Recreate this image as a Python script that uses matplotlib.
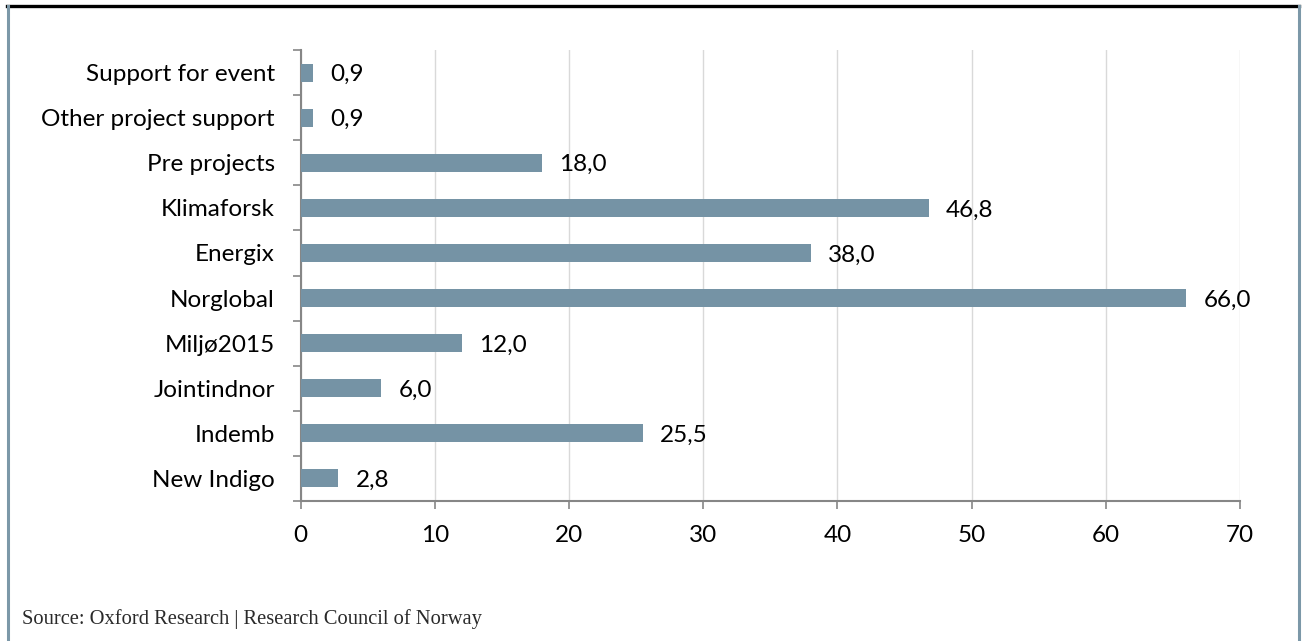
import numpy as np
import matplotlib
matplotlib.use("Agg")
import matplotlib.pyplot as plt
from matplotlib.lines import Line2D

# data, top to bottom as shown
categories = ["Support for event", "Other project support", "Pre projects", "Klimaforsk",
              "Energix", "Norglobal", "Miljø2015", "Jointindnor", "Indemb", "New Indigo"]
values = [0.9, 0.9, 18.0, 46.8, 38.0, 66.0, 12.0, 6.0, 25.5, 2.8]
x_ticks = [0, 10, 20, 30, 40, 50, 60, 70]
source = "Source: Oxford Research | Research Council of Norway"

bar_color = "#7593A5"
frame_color = "#7C98A8"
axis_color = "#868686"
grid_color = "#D9D9D9"

plt.rcParams["font.family"] = ["Lato", "DejaVu Sans"]
fs = 17.5

fig = plt.figure(figsize=(13.06, 6.41), dpi=100)
ax = fig.add_axes([0.2301, 0.2184, 0.7195, 0.7036])

y = np.arange(len(categories))[::-1]
ax.barh(y, values, height=0.4, color=bar_color, zorder=3)

for yi, v in zip(y, values):
    ax.annotate(f"{v:.1f}".replace(".", ","), (v, yi), xytext=(12.5, -1.5),
                textcoords="offset points", va="center", ha="left",
                fontsize=fs, color="black")

ax.set_xlim(0, 70)
ax.set_ylim(-0.5, len(categories) - 0.5)
ax.set_xticks(x_ticks)
ax.set_xticklabels([str(t) for t in x_ticks], fontsize=fs)
ax.set_yticks(y)
ax.set_yticklabels(categories, fontsize=fs)
ax.tick_params(axis="y", length=0, pad=18.5)
ax.tick_params(axis="x", length=6, width=1.2, color=axis_color, pad=11, direction="out")

# category boundary ticks on the y axis
ax.set_yticks(np.arange(-0.5, len(categories)), minor=True)
ax.tick_params(axis="y", which="minor", length=6, width=1.2, color=axis_color, direction="out")

ax.grid(axis="x", color=grid_color, linewidth=1, zorder=0)
for s in ["top", "right"]:
    ax.spines[s].set_visible(False)
for s in ["left", "bottom"]:
    ax.spines[s].set_color(axis_color)
    ax.spines[s].set_linewidth(1.5)

# outer frame
W, H = 1306, 641
fig.add_artist(Line2D([7 / W, 1299 / W], [1 - 5.5 / H, 1 - 5.5 / H], color="black", lw=2.4,
                      transform=fig.transFigure))
fig.add_artist(Line2D([7.5 / W, 7.5 / W], [0, 1 - 5.5 / H], color=frame_color, lw=2.2,
                      transform=fig.transFigure))
fig.add_artist(Line2D([1298.5 / W, 1298.5 / W], [0, 1 - 5.5 / H], color=frame_color, lw=2.2,
                      transform=fig.transFigure))

fig.text(22 / W, 1 - 619 / H, source, fontsize=14.8, family=["Liberation Serif", "DejaVu Serif"],
         color="#2A2A2A", va="center", ha="left")

fig.savefig("out.png", dpi=100)
